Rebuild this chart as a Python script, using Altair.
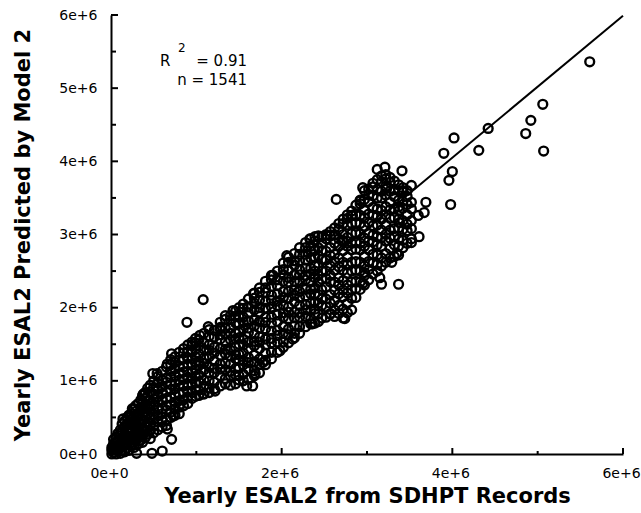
import altair as alt
import pandas as pd

W, H = 512, 439

# values are in millions of ESAL, read column by column from the cloud
low_cols = [
    (0.01, [0.0, 0.05, 0.09]),
    (0.03, [0.02, 0.1, 0.14, 0.2]),
    (0.06, [0.0, 0.06, 0.16, 0.23]),
    (0.08, [0.04, 0.11, 0.19, 0.28]),
    (0.11, [0.01, 0.08, 0.14, 0.25, 0.33]),
    (0.13, [0.05, 0.17, 0.22, 0.3, 0.41]),
    (0.16, [0.03, 0.12, 0.2, 0.27, 0.38, 0.45]),
    (0.19, [0.08, 0.14, 0.25, 0.34, 0.4, 0.5]),
    (0.21, [0.05, 0.18, 0.22, 0.31, 0.44, 0.53]),
    (0.24, [0.12, 0.2, 0.29, 0.36, 0.48, 0.55]),
    (0.27, [0.09, 0.16, 0.26, 0.39, 0.45, 0.52, 0.62]),
    (0.29, [0.18, 0.24, 0.33, 0.42, 0.58, 0.66]),
    (0.32, [0.14, 0.22, 0.3, 0.37, 0.5, 0.55, 0.69]),
    (0.35, [0.19, 0.28, 0.41, 0.47, 0.6, 0.64, 0.74]),
    (0.37, [0.16, 0.25, 0.34, 0.45, 0.53, 0.69, 0.8]),
    (0.40, [0.22, 0.3, 0.38, 0.51, 0.58, 0.66, 0.76, 0.84]),
    (0.43, [0.27, 0.36, 0.44, 0.55, 0.63, 0.73, 0.8, 0.9]),
    (0.46, [0.21, 0.32, 0.41, 0.5, 0.61, 0.69, 0.85, 0.94]),
    (0.50, [0.29, 0.38, 0.47, 0.54, 0.67, 0.75, 0.82, 0.91, 1.0]),
    (0.55, [0.33, 0.44, 0.52, 0.6, 0.71, 0.79, 0.88, 0.97, 1.06]),
    (0.60, [0.37, 0.46, 0.55, 0.62, 0.74, 0.83, 0.92, 1.01, 1.13]),
    (0.65, [0.39, 0.47, 0.6, 0.66, 0.76, 0.85, 0.98, 1.04, 1.19]),
    (0.70, [0.5, 0.57, 0.67, 0.77, 0.88, 0.95, 1.05, 1.13, 1.22, 1.29]),
    (0.75, [0.53, 0.62, 0.71, 0.81, 0.89, 0.99, 1.07, 1.16, 1.25, 1.33]),
    (0.80, [0.55, 0.64, 0.73, 0.82, 0.95, 1.01, 1.1, 1.2, 1.28, 1.39]),
    (0.85, [0.66, 0.74, 0.84, 0.93, 1.02, 1.12, 1.19, 1.3, 1.38, 1.44]),
    (0.90, [0.69, 0.78, 0.86, 0.96, 1.05, 1.13, 1.23, 1.32, 1.4, 1.49]),
    (0.95, [0.76, 0.84, 0.95, 1.03, 1.11, 1.22, 1.3, 1.39, 1.48, 1.53]),
    (0.99, [0.79, 0.88, 0.97, 1.06, 1.15, 1.25, 1.33, 1.43, 1.52, 1.58]),
]

core_cols = [
    (1.03, [0.8, 0.87, 0.99, 1.08, 1.21, 1.27, 1.37, 1.48, 1.56]),
    (1.09, [0.82, 0.93, 1.01, 1.15, 1.24, 1.31, 1.43, 1.52, 1.65]),
    (1.15, [0.84, 0.9, 1.0, 1.11, 1.19, 1.33, 1.42, 1.49, 1.61, 1.7]),
    (1.21, [0.89, 0.98, 1.11, 1.17, 1.27, 1.38, 1.46, 1.6, 1.69]),
    (1.28, [0.93, 1.07, 1.16, 1.23, 1.35, 1.44, 1.57, 1.63, 1.73, 1.8]),
    (1.34, [0.96, 1.03, 1.15, 1.24, 1.37, 1.43, 1.53, 1.64, 1.72, 1.84]),
    (1.40, [0.94, 1.07, 1.13, 1.23, 1.34, 1.42, 1.56, 1.65, 1.72, 1.84, 1.89]),
    (1.46, [0.96, 1.08, 1.17, 1.3, 1.36, 1.46, 1.57, 1.65, 1.79, 1.88, 1.95]),
    (1.50, [1.01, 1.07, 1.17, 1.28, 1.36, 1.5, 1.59, 1.66, 1.78, 1.87, 2.0]),
    (1.55, [1.0, 1.09, 1.22, 1.28, 1.38, 1.49, 1.57, 1.71, 1.8, 1.87, 1.99, 2.05]),
    (1.61, [1.02, 1.16, 1.25, 1.32, 1.44, 1.53, 1.66, 1.72, 1.82, 1.93, 2.01, 2.12]),
    (1.68, [1.07, 1.14, 1.26, 1.35, 1.48, 1.54, 1.64, 1.75, 1.83, 1.97, 2.06, 2.13, 2.2]),
    (1.74, [1.11, 1.22, 1.3, 1.44, 1.53, 1.6, 1.72, 1.81, 1.94, 2.0, 2.1, 2.21, 2.27]),
    (1.81, [1.22, 1.28, 1.38, 1.49, 1.57, 1.71, 1.8, 1.87, 1.99, 2.08, 2.21, 2.27, 2.36]),
    (1.88, [1.3, 1.39, 1.52, 1.58, 1.68, 1.79, 1.87, 2.01, 2.1, 2.17, 2.29, 2.38, 2.44]),
    (1.95, [1.39, 1.53, 1.62, 1.69, 1.81, 1.9, 2.03, 2.09, 2.19, 2.3, 2.38, 2.5]),
    (2.02, [1.46, 1.53, 1.65, 1.74, 1.87, 1.93, 2.03, 2.14, 2.22, 2.36, 2.45, 2.52, 2.61]),
    (2.08, [1.52, 1.63, 1.71, 1.85, 1.94, 2.01, 2.13, 2.22, 2.35, 2.41, 2.51, 2.62, 2.69]),
    (2.15, [1.59, 1.65, 1.75, 1.86, 1.94, 2.08, 2.17, 2.24, 2.36, 2.45, 2.58, 2.64, 2.74]),
    (2.21, [1.65, 1.74, 1.87, 1.93, 2.03, 2.14, 2.22, 2.36, 2.45, 2.52, 2.64, 2.73, 2.82]),
    (2.28, [1.74, 1.88, 1.97, 2.04, 2.16, 2.25, 2.38, 2.44, 2.54, 2.65, 2.73, 2.82, 2.89]),
    (2.34, [1.78, 1.85, 1.97, 2.06, 2.19, 2.25, 2.35, 2.46, 2.54, 2.68, 2.77, 2.84, 2.94]),
    (2.39, [1.79, 1.92, 1.98, 2.08, 2.19, 2.27, 2.41, 2.5, 2.57, 2.69, 2.78, 2.91, 2.97]),
]

upper_cols = [
    (2.43, [1.81, 1.91, 2.06, 2.18, 2.35, 2.44, 2.57, 2.71, 2.82, 2.98]),
    (2.47, [1.86, 2.03, 2.12, 2.25, 2.39, 2.5, 2.66, 2.78, 2.88, 2.97]),
    (2.52, [1.87, 2.01, 2.12, 2.28, 2.4, 2.5, 2.65, 2.77, 2.94, 3.0]),
    (2.57, [1.91, 2.06, 2.18, 2.35, 2.44, 2.57, 2.71, 2.82, 2.98, 3.04]),
    (2.62, [1.88, 1.97, 2.1, 2.24, 2.35, 2.51, 2.63, 2.73, 2.88, 3.0, 3.09]),
    (2.67, [1.92, 2.03, 2.19, 2.31, 2.41, 2.56, 2.68, 2.85, 2.94, 3.07, 3.15]),
    (2.72, [1.86, 1.98, 2.15, 2.24, 2.37, 2.51, 2.62, 2.78, 2.9, 3.0, 3.15, 3.21]),
    (2.77, [1.93, 2.06, 2.2, 2.31, 2.47, 2.59, 2.69, 2.84, 2.96, 3.13, 3.22, 3.27]),
    (2.82, [1.97, 2.13, 2.25, 2.35, 2.5, 2.62, 2.79, 2.88, 3.01, 3.15, 3.26, 3.32]),
    (2.87, [2.14, 2.26, 2.36, 2.51, 2.63, 2.8, 2.89, 3.02, 3.16, 3.27, 3.4]),
    (2.92, [2.25, 2.35, 2.5, 2.62, 2.79, 2.88, 3.01, 3.15, 3.26, 3.42, 3.47]),
    (2.97, [2.31, 2.48, 2.57, 2.7, 2.84, 2.95, 3.11, 3.23, 3.33, 3.48, 3.6]),
    (3.02, [2.38, 2.52, 2.63, 2.79, 2.91, 3.01, 3.16, 3.28, 3.45, 3.54, 3.62]),
    (3.07, [2.46, 2.61, 2.73, 2.9, 2.99, 3.12, 3.26, 3.37, 3.53, 3.65]),
    (3.12, [2.5, 2.59, 2.72, 2.86, 2.97, 3.13, 3.25, 3.35, 3.5, 3.62, 3.75]),
    (3.17, [2.57, 2.68, 2.84, 2.96, 3.06, 3.21, 3.33, 3.5, 3.59, 3.72, 3.8]),
    (3.22, [2.62, 2.74, 2.91, 3.0, 3.13, 3.27, 3.38, 3.54, 3.66, 3.76, 3.82]),
    (3.27, [2.68, 2.81, 2.95, 3.06, 3.22, 3.34, 3.44, 3.59, 3.71, 3.78]),
    (3.32, [2.7, 2.86, 2.98, 3.08, 3.23, 3.35, 3.52, 3.61, 3.73]),
    (3.37, [2.72, 2.84, 2.94, 3.09, 3.21, 3.38, 3.47, 3.6, 3.68]),
    (3.42, [2.82, 2.92, 3.07, 3.19, 3.36, 3.45, 3.58, 3.64]),
    (3.47, [2.88, 3.05, 3.14, 3.27, 3.41, 3.52, 3.6]),
    (3.52, [2.94, 3.08, 3.19, 3.35, 3.44]),
]

# scattered points and outliers
edge_x = [5.61, 5.06, 4.92, 4.86, 5.07, 4.42, 4.31, 4.02, 3.90, 4.00, 3.96, 3.98,
          3.69, 3.67, 3.60, 3.61, 3.52, 2.64, 3.12, 3.21, 3.41, 3.52, 3.42, 3.38,
          3.38, 3.35, 3.29, 3.17, 3.37, 2.95, 3.15, 2.97, 1.08, 0.89, 1.14, 1.34,
          1.43, 1.67, 1.90, 2.06, 0.30, 0.48, 0.60, 0.71, 0.66, 0.73, 0.81, 1.59,
          1.66, 1.69, 1.78, 1.22, 1.08, 1.98, 2.13, 2.36, 2.57, 2.74, 0.54, 0.71,
          0.38, 0.25, 0.14, 0.49, 0.66, 1.04, 1.28, 2.33, 2.53, 2.72, 2.83, 2.92,
          2.95, 3.07, 3.23]
edge_y = [5.36, 4.78, 4.56, 4.38, 4.14, 4.45, 4.15, 4.32, 4.11, 3.86, 3.74, 3.41,
          3.44, 3.30, 3.26, 2.97, 2.89, 3.48, 3.89, 3.92, 3.87, 3.67, 3.60, 3.33,
          3.16, 2.74, 2.62, 2.32, 2.32, 2.33, 2.41, 2.44, 2.11, 1.80, 1.74, 1.89,
          1.96, 2.19, 2.44, 2.71, 0.01, 0.01, 0.04, 0.20, 0.34, 0.52, 0.68, 0.93,
          0.93, 1.10, 1.25, 0.86, 0.82, 1.41, 1.57, 1.78, 1.92, 1.85, 1.10, 1.37,
          0.82, 0.62, 0.48, 1.10, 1.23, 1.62, 1.71, 2.94, 2.99, 2.92, 3.26, 3.46,
          3.64, 3.70, 3.63]

fit_x = [0.0, 6.0]
fit_y = [0.17, 5.99]

x_label_vals = [0, 2, 4, 6]
y_label_vals = [0, 1, 2, 3, 4, 5, 6]
x_major = [0, 2, 4, 6]
x_minor = [1, 3, 5]
y_major = [0, 1, 2, 3, 4, 5, 6]
y_minor = [0.5, 1.5, 2.5, 3.5, 4.5, 5.5]

M = 1e6
rows = []
for cols in (low_cols, core_cols, upper_cols):
    for cx, ys in cols:
        for cy in ys:
            rows.append({"x": cx * M, "y": cy * M})
for ex, ey in zip(edge_x, edge_y):
    rows.append({"x": ex * M, "y": ey * M})
pts = pd.DataFrame(rows)

X = alt.X("x:Q", scale=alt.Scale(domain=[0, 6 * M], nice=False, zero=False),
          axis=alt.Axis(values=[v * M for v in x_label_vals], format=".0e",
                        title="Yearly ESAL2 from SDHPT Records", labelFlush=False,
                        labelPadding=12, labelOffset=-2, titleY=48,
                        titleBaseline="alphabetic"))
Y = alt.Y("y:Q", scale=alt.Scale(domain=[0, 6 * M], nice=False, zero=False),
          axis=alt.Axis(values=[v * M for v in y_label_vals], format=".0e",
                        title="Yearly ESAL2 Predicted by Model 2", labelFlush=False,
                        labelPadding=14, titleX=-82, titleY=H / 2,
                        titleBaseline="alphabetic"))

points = alt.Chart(pts).mark_point(
    shape="circle", filled=False, size=78, strokeWidth=2.4, color="black", opacity=1
).encode(x=X, y=Y)

fit = alt.Chart(pd.DataFrame({"x": [v * M for v in fit_x], "y": [v * M for v in fit_y]})).mark_line(
    color="black", strokeWidth=2
).encode(x=X, y=Y)


def xticks(vals, length):
    return alt.Chart(pd.DataFrame({"x": [v * M for v in vals]})).mark_rule(
        color="black", strokeWidth=2
    ).encode(x=X, y=alt.value(H), y2=alt.value(H - length))


def yticks(vals, length):
    return alt.Chart(pd.DataFrame({"y": [v * M for v in vals]})).mark_rule(
        color="black", strokeWidth=2
    ).encode(y=Y, x=alt.value(0), x2=alt.value(length))


def label(txt, px, py, size=15, align="left"):
    return alt.Chart(pd.DataFrame({"t": [txt]})).mark_text(
        font="DejaVu Sans", fontSize=size, align=align, baseline="alphabetic", color="black"
    ).encode(x=alt.value(px), y=alt.value(py), text="t:N")


chart = alt.layer(
    xticks(x_major, 6), xticks(x_minor, 3), yticks(y_major, 7), yticks(y_minor, 5),
    points, fit,
    label("R", 49, 51), label("2", 67, 37, size=12),
    label("= 0.91", 136, 51, align="right"), label("n = 1541", 136, 70, align="right"),
).properties(
    width=W, height=H,
    autosize=alt.AutoSizeParams(type="none"),
    padding={"left": 111, "top": 15, "right": 18, "bottom": 59},
).configure_view(stroke=None).configure_axis(
    grid=False, ticks=False, domainColor="black", domainWidth=2,
    labelFont="DejaVu Sans", labelFontSize=14, labelColor="black",
    titleFont="DejaVu Sans", titleFontSize=21, titleFontWeight="bold", titleColor="black",
)

chart.save("out.html", embed_options={"renderer": "svg", "actions": False})
